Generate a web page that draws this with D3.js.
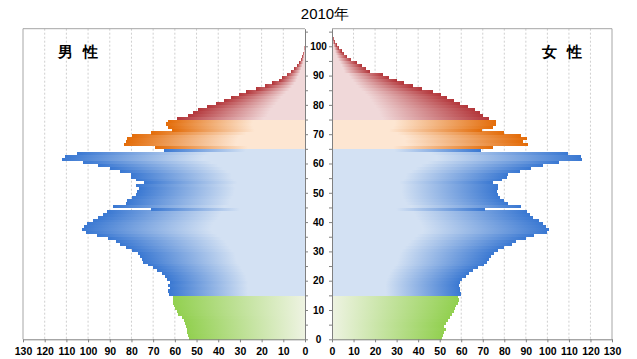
<!DOCTYPE html>
<html><head><meta charset="utf-8">
<script src="https://cdn.jsdelivr.net/npm/d3@7"></script>
<style>
html,body{margin:0;padding:0;background:#fff;}
text{font-family:"Liberation Sans",Arial,sans-serif;}
</style></head>
<body>
<svg id="chart" width="637" height="359"></svg>
<script>
const title = "2010年";
const maleLabel = "男 性";
const femaleLabel = "女 性";
const ages = d3.range(0, 106);
// population by single year of age (units: 10,000 persons)
const male = [
53.4,53.8,54.5,54.5,54.8,55.3,55.6,56.8,58.4,59.1,
60,60.4,60.7,60.7,61,62.6,63,62.2,63,62.2,
63.7,64.5,66,68.3,69.9,72.2,74.5,75.3,76,76.8,
79.9,82.5,85.3,87.3,91,96,101,103,102,100.5,
97.8,95.2,93.2,91.4,71.1,88.3,82.5,82.2,79.9,77.9,
77.3,76.3,78,74.3,77.9,80.4,80.4,85.3,89.9,95.2,
102.4,111.8,110.6,105.2,65,69.1,83.4,82.3,81.9,79.9,
71,61.1,63,64.2,63,58.8,53.8,51.5,49.2,45,
41,37.5,34,30.5,27,22.5,18.5,15,12,10.5,
8.5,6.5,5,3.6,2.6,1.8,1.3,0.9,0.6,0.4,
0.15,0.1,0.05,0,0,0];
const female = [
51.1,51.6,51.9,52.7,52.2,52.7,53.8,55,55.7,56.5,
57.3,57.7,58.3,58.8,58.3,59.8,59.5,59.3,59,59.5,
60.5,62,63.5,65.5,68,70.8,72,73,74,75,
77,80,83.5,85.6,90,93.6,99.8,100.6,99.5,97.8,
96,93.5,91.9,90.4,71,87.6,81.9,79.9,78,77.2,
76.5,76.9,77.2,74.9,78.8,81.1,81.9,87.3,92.2,98.1,
105.5,116,115.6,109.7,69,74.6,90.8,88.5,90.5,87.7,
80,69.8,74.6,76.3,76.3,73,70,68.5,66.5,63,
59.5,56.5,53.5,50.5,47,42,37.5,33.5,30,26.5,
23.8,17.5,16,13.8,11.5,9,7,5.6,4.5,3.2,
2.2,1.3,0.9,0.6,0.4,0.2];
const xTicks = d3.range(0, 131, 10);
const ageTicks = d3.range(0, 106, 5);
const ageLabels = d3.range(0, 101, 10);
const groups = [
  {name:"young", from:0, to:15, dark:"#92d050", light:"#eef3e2", mid:0.0},
  {name:"work", from:15, to:65, dark:"#3a78d2", light:"#d3e1f3", mid:0.42},
  {name:"old1", from:65, to:75, dark:"#e36c09", light:"#fde6d2", mid:0.38},
  {name:"old2", from:75, to:106, dark:"#b3363a", light:"#f0d8d9", mid:0.32}
];
const groupOf = a => groups.find(g => a >= g.from && a < g.to);

const svg = d3.select("#chart");
const y = d3.scaleLinear().domain([0, 106]).range([339.3, 28.7]);
const xM = d3.scaleLinear().domain([0, 130]).range([305, 23]);
const xF = d3.scaleLinear().domain([0, 130]).range([332, 612]);

const defs = svg.append("defs");
groups.forEach(g => {
  ["m","f"].forEach(side => {
    const lg = defs.append("linearGradient").attr("id", "g_" + g.name + "_" + side)
      .attr("x1", 0).attr("x2", 1).attr("y1", 0).attr("y2", 0);
    const stops = [[0, g.light], [g.mid, g.light], [1, g.dark]];
    const s = side === "m" ? stops.map(d => [1 - d[0], d[1]]).reverse() : stops;
    s.forEach(d => lg.append("stop").attr("offset", d[0]).attr("stop-color", d[1]));
  });
});

// grid lines
const gridG = svg.append("g");
xTicks.filter(t => t > 0 && t < 130).forEach(t => {
  [xM(t), xF(t)].forEach(x => gridG.append("line")
    .attr("x1", x).attr("x2", x).attr("y1", y(106)).attr("y2", y(0))
    .attr("stroke", "#cfcfcf").attr("stroke-width", 1).attr("stroke-dasharray", "2,2"));
});

// bars
const barsM = svg.append("g").attr("shape-rendering", "crispEdges");
barsM.selectAll("rect").data(ages.filter(a => male[a] > 0)).join("rect")
  .attr("x", a => xM(male[a])).attr("width", a => xM(0) - xM(male[a]))
  .attr("y", a => y(a + 1)).attr("height", a => y(a) - y(a + 1) + 0.4)
  .attr("fill", a => "url(#g_" + groupOf(a).name + "_m)");
const barsF = svg.append("g").attr("shape-rendering", "crispEdges");
barsF.selectAll("rect").data(ages.filter(a => female[a] > 0)).join("rect")
  .attr("x", xF(0)).attr("width", a => xF(female[a]) - xF(0))
  .attr("y", a => y(a + 1)).attr("height", a => y(a) - y(a + 1) + 0.4)
  .attr("fill", a => "url(#g_" + groupOf(a).name + "_f)");

// frames
const frame = svg.append("g").attr("fill", "none");
frame.append("path").attr("d", `M${xM(0)},${y(106)}H${xM(130)}V${y(0)}`).attr("stroke", "#a6a6a6");
frame.append("path").attr("d", `M${xF(0)},${y(106)}H${xF(130)}V${y(0)}`).attr("stroke", "#a6a6a6");

// bottom axes
const axM = svg.append("g").attr("transform", `translate(0,${y(0)})`)
  .call(d3.axisBottom(xM).tickValues(xTicks).tickSize(3).tickSizeOuter(0).tickFormat(d3.format("d")));
const axF = svg.append("g").attr("transform", `translate(0,${y(0)})`)
  .call(d3.axisBottom(xF).tickValues(xTicks).tickSize(3).tickSizeOuter(0).tickFormat(d3.format("d")));
[axM, axF].forEach(ax => {
  ax.select(".domain").attr("stroke", "#808080");
  ax.selectAll(".tick line").attr("stroke", "#808080");
  ax.selectAll(".tick text").attr("font-size", "10.5px").attr("font-weight", "bold")
    .attr("fill", "#000").attr("font-family", "Liberation Sans, Arial, sans-serif").attr("dy", "0.95em");
});

// center age axes
const axYM = svg.append("g").attr("transform", `translate(${xM(0)},0)`)
  .call(d3.axisRight(y).tickValues(ageTicks).tickSize(3).tickSizeOuter(0).tickFormat(""));
const axYF = svg.append("g").attr("transform", `translate(${xF(0)},0)`)
  .call(d3.axisLeft(y).tickValues(ageTicks).tickSize(3).tickSizeOuter(0).tickFormat(""));
[axYM, axYF].forEach(ax => {
  ax.select(".domain").attr("stroke", "#808080");
  ax.selectAll(".tick line").attr("stroke", "#808080");
});
svg.append("g").selectAll("text").data(ageLabels).join("text")
  .attr("x", (xM(0) + xF(0)) / 2).attr("y", d => y(d) + 3.8)
  .attr("text-anchor", "middle").attr("font-size", "10px").attr("font-weight", "bold")
  .text(d => d);

// titles
svg.append("text").attr("x", 325).attr("y", 19).attr("text-anchor", "middle")
  .attr("font-size", "15px").text(title);
svg.append("text").attr("x", 78).attr("y", 57).attr("text-anchor", "middle")
  .attr("font-size", "15px").attr("font-weight", "bold").style("word-spacing", "5px")
  .attr("font-family", "Noto Sans CJK JP, sans-serif").text(maleLabel);
svg.append("text").attr("x", 562).attr("y", 57).attr("text-anchor", "middle")
  .attr("font-size", "15px").attr("font-weight", "bold").style("word-spacing", "5px")
  .attr("font-family", "Noto Sans CJK JP, sans-serif").text(femaleLabel);
</script>
</body></html>
